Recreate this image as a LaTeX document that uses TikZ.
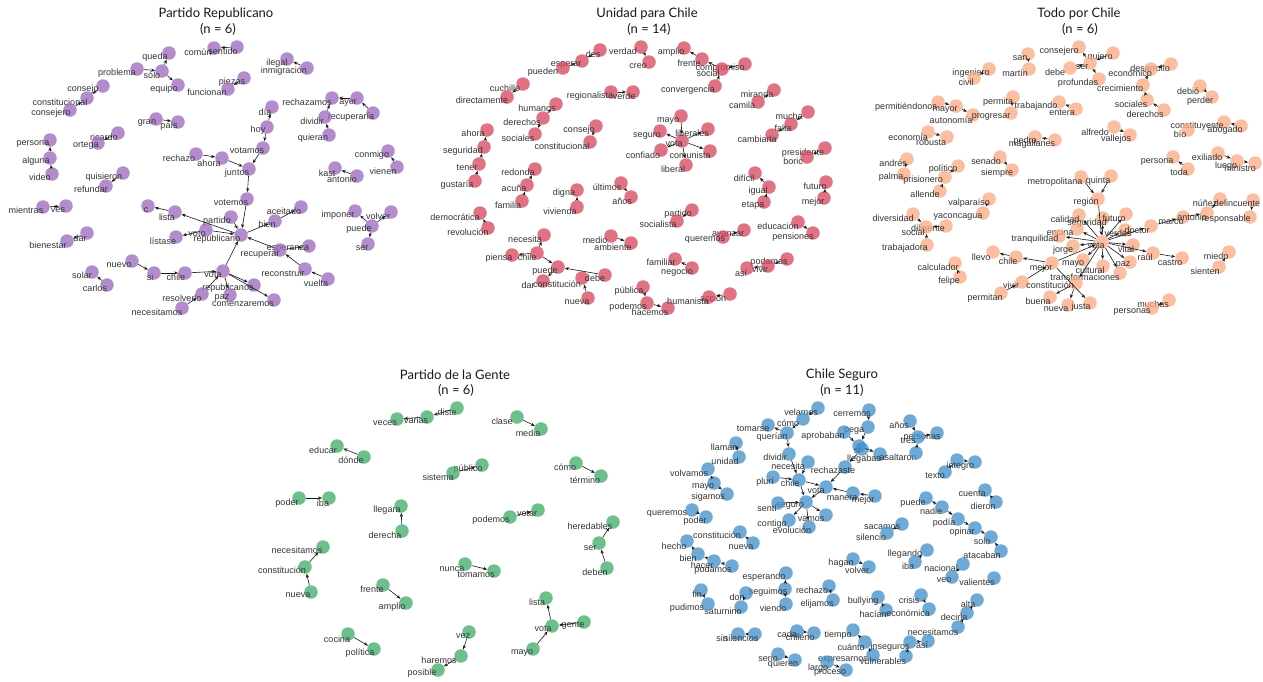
\documentclass[tikz,border=0pt]{standalone}
\usepackage{fontspec}
\setmainfont{Liberation Sans}
\newfontfamily\ttlfont{Lato}
\usetikzlibrary{arrows.meta}
\definecolor{cpurp}{HTML}{9966BB}
\definecolor{cred}{HTML}{D6435A}
\definecolor{corng}{HTML}{FCA982}
\definecolor{cgrn}{HTML}{3DAA65}
\definecolor{cblu}{HTML}{3E8EC8}
\definecolor{labc}{HTML}{333333}
\colorlet{cur}{cpurp}
\tikzset{
  v/.style={circle, minimum size=13.5pt, inner sep=0pt, draw=none, fill=cur, fill opacity=0.75},
  lab/.style={inner sep=0pt, font=\fontsize{9}{9}\selectfont, text=labc},
  ttl/.style={inner sep=0pt, font=\ttlfont\fontsize{13}{13}\selectfont, text=black!90},
  e/.style={draw=black!90, line width=0.6pt, -{Stealth[length=4pt,width=3.2pt]}}
}
\newcommand\vtx[6]{\node[v] (#1) at (#2,#3) {}; \node[lab] (#1l) at (#4,#5) {#6};}
\newcommand\eg[2]{\draw[e] (#1) -- (#2);}
\begin{document}
\begin{tikzpicture}[x=1pt,y=-1pt]
\useasboundingbox (0,0) rectangle (1263,681);
\fill[white] (0,0) rectangle (1263,681);
% ===== Panel 1 =====
\node[ttl] (t1) at (216,14) {Partido Republicano};
\node[ttl] (t1n) at (218,29) {(n = 6)};
\colorlet{cur}{cpurp}
\vtx{a1}{214}{48}{198}{52}{común}
\vtx{a2}{237}{47}{223}{51}{sentido}
\vtx{a3}{287}{59}{277}{63}{ilegal}
\vtx{a4}{307}{68}{284}{71}{inmigración}
\vtx{a5}{169}{53}{155}{57}{queda}
\vtx{a6}{137}{69}{117}{73}{problema}
\vtx{a7}{162}{71}{152}{75}{sólo}
\vtx{a8}{178}{85}{164}{89}{equipo}
\vtx{a9}{103}{86}{83}{89}{consejo}
\vtx{a10}{87}{98}{60}{102}{constitucional}
\vtx{a11}{70}{110}{51}{113}{consejero}
\vtx{a12}{244}{78}{232}{82}{piezas}
\vtx{a13}{228}{89}{207}{92}{funcionan}
\vtx{a14}{156}{119}{147}{123}{gran}
\vtx{a15}{178}{122}{169}{126}{país}
\vtx{a16}{118}{133}{104}{137}{ricardo}
\vtx{a17}{98}{143}{86}{146}{ortega}
\vtx{a18}{50}{140}{33}{144}{persona}
\vtx{a19}{50}{158}{36}{161}{alguna}
\vtx{a20}{52}{174}{40}{177}{video}
\vtx{a21}{332}{98}{307}{102}{rechazamos}
\vtx{a22}{357}{98}{348}{103}{ayer}
\vtx{a23}{373}{113}{351}{117}{recuperaría}
\vtx{a24}{325}{117}{312}{121}{dividir}
\vtx{a25}{329}{135}{313}{138}{quieran}
\vtx{a26}{272}{107}{265}{112}{día}
\vtx{a27}{267}{127}{258}{130}{hoy}
\vtx{a28}{263}{148}{247}{151}{votamos}
\vtx{a29}{249}{169}{237}{173}{juntos}
\vtx{a30}{247}{199}{231}{203}{votemos}
\vtx{a31}{196}{154}{179}{158}{rechazo}
\vtx{a32}{222}{158}{209}{163}{ahora}
\vtx{a33}{388}{151}{372}{155}{conmigo}
\vtx{a34}{397}{167}{383}{171}{vienen}
\vtx{a35}{335}{168}{327}{173}{kast}
\vtx{a36}{357}{176}{342}{179}{antonio}
\vtx{a37}{123}{173}{104}{177}{quisieron}
\vtx{a38}{106}{186}{91}{189}{refundar}
\vtx{a39}{43}{207}{26}{210}{mientras}
\vtx{a40}{66}{206}{58}{210}{ves}
\vtx{a41}{87}{233}{80}{238}{dar}
\vtx{a42}{67}{241}{48}{245}{bienestar}
\vtx{a43}{92}{272}{82}{275}{solar}
\vtx{a44}{107}{285}{95}{288}{carlos}
\vtx{a45}{355}{211}{338}{215}{imponer}
\vtx{a46}{391}{212}{378}{216}{volver}
\vtx{a47}{372}{226}{359}{229}{puede}
\vtx{a48}{368}{244}{362}{248}{ser}
\vtx{a50}{241}{235}{217}{239}{republicano}
\vtx{a51}{148}{206}{146}{210}{c}
\vtx{a52}{175}{212}{167}{217}{lista}
\vtx{a53}{176}{237}{163}{241}{lístase}
\vtx{a54}{206}{230}{197}{234}{voto}
\vtx{a55}{231}{217}{217}{221}{partido}
\vtx{a56}{275}{221}{267}{224}{bien}
\vtx{a57}{301}{207}{284}{211}{aceitado}
\vtx{a58}{309}{246}{288}{249}{esperanza}
\vtx{a59}{280}{250}{260}{255}{recuperar}
\vtx{a60}{305}{269}{283}{273}{reconstruir}
\vtx{a61}{328}{279}{316}{283}{vuelta}
\vtx{a62}{223}{271}{213}{275}{vota}
\vtx{a63}{185}{273}{176}{277}{chile}
\vtx{a64}{154}{273}{150}{277}{si}
\vtx{a65}{132}{261}{119}{265}{nuevo}
\vtx{a66}{254}{285}{228}{288}{republicanos}
\vtx{a67}{230}{295}{222}{298}{paz}
\vtx{a68}{274}{300}{243}{304}{comenzaremos}
\vtx{a69}{202}{294}{182}{298}{resolverlo}
\vtx{a70}{182}{308}{157}{312}{necesitamos}
\eg{a2}{a1}\eg{a4}{a3}\eg{a6}{a7}\eg{a7}{a5}\eg{a7}{a8}
\eg{a9}{a10}\eg{a11}{a10}\eg{a12}{a13}\eg{a14}{a15}\eg{a16}{a17}
\eg{a19}{a18}\eg{a20}{a19}\eg{a22}{a21}\eg{a23}{a22}\eg{a24}{a21}\eg{a25}{a24}
\eg{a27}{a26}\eg{a27}{a28}\eg{a28}{a29}\eg{a29}{a30}\eg{a31}{a32}\eg{a32}{a29}
\eg{a30}{a50}
\eg{a34}{a33}\eg{a36}{a35}\eg{a37}{a38}\eg{a39}{a40}\eg{a41}{a42}\eg{a44}{a43}
\eg{a47}{a45}\eg{a47}{a46}\eg{a47}{a48}
\eg{a52}{a51}\eg{a50}{a52}\eg{a54}{a53}\eg{a54}{a50}\eg{a55}{a50}\eg{a50}{a56}\eg{a56}{a57}
\eg{a59}{a50}\eg{a59}{a58}\eg{a60}{a59}\eg{a61}{a60}
\eg{a62}{a50}\eg{a64}{a63}\eg{a63}{a62}\eg{a65}{a64}\eg{a62}{a66}\eg{a62}{a68}\eg{a62}{a67}
\eg{a70}{a69}\eg{a69}{a62}
% ===== Panel 2 =====
\node[ttl] (t2) at (647,14) {Unidad para Chile};
\node[ttl] (t2n) at (649,29) {(n = 14)};
\colorlet{cur}{cred}
\vtx{b1}{600}{50}{593}{54}{des}
\vtx{b2}{582}{61}{566}{65}{esperar}
\vtx{b3}{563}{68}{543}{72}{pueden}
\vtx{b4}{641}{47}{623}{51}{verdad}
\vtx{b5}{649}{62}{638}{66}{creo}
\vtx{b6}{684}{48}{671}{52}{amplio}
\vtx{b7}{702}{59}{689}{63}{frente}
\vtx{b8}{745}{64}{720}{68}{compromiso}
\vtx{b9}{722}{69}{708}{73}{social}
\vtx{b10}{715}{86}{688}{90}{convergencia}
\vtx{b11}{523}{84}{505}{88}{cuchillo}
\vtx{b12}{507}{97}{482}{100}{directamente}
\vtx{b13}{611}{92}{590}{96}{regionalista}
\vtx{b14}{633}{92}{624}{96}{verde}
\vtx{b15}{774}{90}{757}{94}{miranda}
\vtx{b16}{758}{102}{742}{105}{camila}
\vtx{b17}{556}{104}{537}{108}{humanos}
\vtx{b18}{543}{118}{522}{122}{derechos}
\vtx{b19}{535}{134}{518}{138}{sociales}
\vtx{b20}{596}{126}{579}{130}{consejo}
\vtx{b21}{590}{142}{562}{146}{constitucional}
\vtx{b22}{487}{130}{473}{133}{ahora}
\vtx{b23}{484}{147}{463}{151}{seguridad}
\vtx{b24}{479}{164}{467}{168}{tener}
\vtx{b25}{475}{181}{457}{185}{gustaría}
\vtx{b26}{808}{112}{789}{116}{mucha}
\vtx{b27}{791}{124}{783}{128}{falta}
\vtx{b28}{772}{135}{757}{139}{cambiarla}
\vtx{b29}{825}{148}{803}{153}{presidente}
\vtx{b30}{807}{157}{793}{161}{boric}
\vtx{b31}{682}{141}{674}{144}{vota}
\vtx{b32}{681}{116}{668}{121}{mayo}
\vtx{b33}{660}{131}{647}{136}{seguro}
\vtx{b34}{708}{129}{692}{133}{liberales}
\vtx{b35}{661}{150}{643}{155}{confiado}
\vtx{b36}{710}{151}{690}{155}{comunista}
\vtx{b37}{686}{165}{673}{169}{liberal}
\vtx{b38}{535}{169}{518}{172}{redonda}
\vtx{b39}{527}{185}{514}{188}{acuña}
\vtx{b40}{522}{201}{508}{205}{familia}
\vtx{b41}{577}{190}{564}{193}{digna}
\vtx{b42}{577}{207}{560}{211}{vivienda}
\vtx{b43}{621}{183}{607}{187}{últimos}
\vtx{b44}{631}{197}{622}{201}{años}
\vtx{b45}{826}{182}{815}{186}{futuro}
\vtx{b46}{824}{198}{813}{202}{mejor}
\vtx{b47}{755}{173}{744}{178}{difícil}
\vtx{b48}{769}{187}{758}{191}{igual}
\vtx{b49}{764}{202}{753}{206}{etapa}
\vtx{b50}{692}{210}{678}{214}{partido}
\vtx{b51}{677}{221}{658}{224}{socialista}
\vtx{b52}{480}{213}{455}{217}{democrática}
\vtx{b53}{488}{228}{468}{232}{revolución}
\vtx{b54}{798}{222}{778}{226}{educación}
\vtx{b55}{813}{233}{793}{237}{pensiones}
\vtx{b56}{744}{230}{728}{234}{avanzar}
\vtx{b57}{723}{237}{705}{240}{queremos}
\vtx{b58}{611}{236}{595}{240}{medio}
\vtx{b59}{631}{243}{613}{247}{ambiente}
\vtx{b60}{544}{235}{525}{239}{necesita}
\vtx{b61}{537}{253}{527}{257}{chile}
\vtx{b62}{512}{255}{499}{258}{piensa}
\vtx{b63}{558}{267}{545}{271}{puede}
\vtx{b64}{543}{281}{528}{285}{dar}
\vtx{b65}{582}{278}{557}{284}{constitución}
\vtx{b66}{605}{275}{595}{278}{debe}
\vtx{b67}{588}{298}{577}{302}{nueva}
\vtx{b68}{675}{259}{661}{262}{familiar}
\vtx{b69}{692}{268}{677}{272}{negocio}
\vtx{b70}{787}{259}{769}{262}{podamos}
\vtx{b71}{768}{266}{760}{269}{vivir}
\vtx{b72}{747}{268}{741}{273}{así}
\vtx{b73}{643}{287}{629}{291}{pública}
\vtx{b74}{647}{303}{628}{307}{podemos}
\vtx{b75}{668}{308}{650}{312}{hacemos}
\vtx{b76}{730}{294}{713}{298}{acción}
\vtx{b77}{709}{297}{688}{301}{humanista}
\eg{b3}{b2}\eg{b1}{b2}\eg{b4}{b5}\eg{b7}{b6}\eg{b9}{b7}\eg{b10}{b9}\eg{b8}{b9}
\eg{b11}{b12}\eg{b13}{b14}\eg{b16}{b15}\eg{b18}{b17}\eg{b18}{b19}\eg{b20}{b21}
\eg{b23}{b22}\eg{b24}{b23}\eg{b25}{b24}\eg{b26}{b27}\eg{b27}{b28}\eg{b29}{b30}
\eg{b32}{b31}\eg{b31}{b33}\eg{b31}{b34}\eg{b31}{b35}\eg{b31}{b36}\eg{b31}{b37}
\eg{b39}{b38}\eg{b40}{b39}\eg{b42}{b41}\eg{b43}{b44}\eg{b46}{b45}\eg{b48}{b47}\eg{b49}{b48}
\eg{b50}{b51}\eg{b53}{b52}\eg{b54}{b55}\eg{b57}{b56}\eg{b58}{b59}
\eg{b61}{b60}\eg{b61}{b62}\eg{b61}{b63}\eg{b66}{b63}\eg{b63}{b64}\eg{b67}{b65}
\eg{b69}{b68}\eg{b70}{b71}\eg{b71}{b72}\eg{b73}{b74}\eg{b74}{b75}\eg{b76}{b77}
% ===== Panel 3 =====
\node[ttl] (t3) at (1079,14) {Todo por Chile};
\node[ttl] (t3n) at (1080,29) {(n = 6)};
\colorlet{cur}{corng}
\vtx{c1}{1079}{47}{1059}{51}{consejero}
\vtx{c2}{1113}{53}{1100}{57}{quiero}
\vtx{c3}{1090}{63}{1082}{67}{ser}
\vtx{c4}{1070}{68}{1055}{72}{debe}
\vtx{c5}{1099}{79}{1078}{83}{profundas}
\vtx{c6}{1028}{54}{1020}{58}{san}
\vtx{c7}{1029}{69}{1015}{73}{martín}
\vtx{c8}{989}{69}{971}{73}{ingeniero}
\vtx{c9}{974}{78}{966}{82}{civil}
\vtx{c10}{1171}{64}{1150}{68}{desarrollo}
\vtx{c11}{1151}{69}{1130}{73}{económico}
\vtx{c12}{1143}{85}{1120}{88}{crecimiento}
\vtx{c13}{1147}{100}{1131}{104}{sociales}
\vtx{c14}{1164}{110}{1145}{114}{derechos}
\vtx{c15}{1200}{86}{1188}{91}{debió}
\vtx{c16}{1212}{97}{1200}{101}{perder}
\vtx{c17}{938}{102}{906}{107}{permitiéndonos}
\vtx{c18}{956}{106}{945}{110}{mayor}
\vtx{c19}{973}{115}{951}{120}{autonomía}
\vtx{c20}{1013}{97}{998}{102}{permita}
\vtx{c21}{1011}{113}{991}{117}{progresar}
\vtx{c22}{1059}{102}{1036}{106}{trabajando}
\vtx{c23}{1076}{109}{1062}{113}{entera}
\vtx{c24}{1224}{122}{1197}{126}{constituyente}
\vtx{c25}{1241}{126}{1225}{130}{abogado}
\vtx{c26}{1188}{130}{1180}{134}{bío}
\vtx{c27}{928}{132}{908}{137}{economía}
\vtx{c28}{947}{137}{931}{142}{robusta}
\vtx{c29}{1114}{127}{1095}{132}{alfredo}
\vtx{c30}{1130}{135}{1116}{139}{vallejos}
\vtx{c31}{1035}{137}{1025}{141}{pedro}
\vtx{c32}{1055}{140}{1032}{144}{magallanes}
\vtx{c33}{1000}{157}{986}{161}{senado}
\vtx{c34}{1012}{170}{997}{173}{siempre}
\vtx{c35}{1173}{157}{1157}{162}{persona}
\vtx{c36}{1188}{169}{1179}{172}{toda}
\vtx{c37}{1218}{153}{1207}{157}{exiliado}
\vtx{c38}{1237}{161}{1226}{166}{luego}
\vtx{c39}{1255}{163}{1240}{168}{ministro}
\vtx{c40}{907}{159}{893}{163}{andrés}
\vtx{c41}{904}{174}{891}{177}{palma}
\vtx{c42}{958}{166}{943}{169}{político}
\vtx{c43}{945}{177}{923}{180}{prisionero}
\vtx{c44}{940}{191}{925}{194}{allende}
\vtx{c45}{989}{199}{969}{203}{valparaíso}
\vtx{c46}{983}{213}{958}{217}{yaconcagua}
\vtx{c47}{913}{214}{893}{218}{diversidad}
\vtx{c48}{946}{226}{928}{229}{diligente}
\vtx{c49}{926}{227}{913}{232}{social}
\vtx{c50}{927}{245}{905}{248}{trabajadora}
\vtx{c51}{955}{263}{938}{267}{calculador}
\vtx{c52}{960}{277}{949}{281}{felipe}
\vtx{c53}{1169}{300}{1153}{304}{muchas}
\vtx{c54}{1152}{308}{1132}{312}{personas}
\vtx{c55}{1229}{252}{1216}{256}{miedo}
\vtx{c56}{1219}{267}{1205}{271}{sienten}
\vtx{c60}{1102}{242}{1096}{246}{vota}
\vtx{c61}{1081}{177}{1055}{182}{metropolitana}
\vtx{c62}{1111}{176}{1098}{181}{quinta}
\vtx{c63}{1098}{199}{1086}{202}{región}
\vtx{c64}{1079}{215}{1065}{219}{calidad}
\vtx{c65}{1103}{218}{1087}{223}{seguridad}
\vtx{c66}{1126}{214}{1114}{218}{futuro}
\vtx{c67}{1125}{230}{1118}{233}{verdes}
\vtx{c68}{1151}{226}{1137}{230}{doctor}
\vtx{c69}{1183}{217}{1171}{222}{marco}
\vtx{c70}{1207}{213}{1192}{217}{antonio}
\vtx{c71}{1220}{199}{1205}{203}{núñez}
\vtx{c72}{1253}{200}{1237}{203}{delincuente}
\vtx{c73}{1250}{217}{1226}{219}{responsable}
\vtx{c74}{1077}{229}{1060}{232}{encina}
\vtx{c75}{1059}{236}{1035}{239}{tranquilidad}
\vtx{c76}{1073}{246}{1063}{250}{jorge}
\vtx{c77}{1133}{245}{1126}{249}{vital}
\vtx{c78}{1153}{253}{1145}{257}{raúl}
\vtx{c79}{1182}{258}{1170}{263}{castro}
\vtx{c80}{1130}{262}{1123}{265}{paz}
\vtx{c81}{1083}{260}{1073}{264}{mayo}
\vtx{c82}{1103}{266}{1090}{270}{cultural}
\vtx{c83}{1120}{273}{1085}{277}{transformaciones}
\vtx{c84}{1052}{263}{1041}{268}{mejor}
\vtx{c85}{1016}{257}{1008}{261}{chile}
\vtx{c86}{993}{252}{981}{257}{llevo}
\vtx{c87}{1022}{282}{1011}{285}{vivir}
\vtx{c88}{1001}{293}{985}{298}{permitan}
\vtx{c89}{1076}{283}{1050}{285}{constitución}
\vtx{c90}{1050}{297}{1038}{301}{buena}
\vtx{c91}{1068}{305}{1056}{309}{nueva}
\vtx{c92}{1090}{303}{1081}{307}{justa}
\eg{c3}{c1}\eg{c2}{c3}\eg{c4}{c3}\eg{c3}{c5}\eg{c6}{c7}\eg{c8}{c9}
\eg{c10}{c11}\eg{c12}{c11}\eg{c14}{c13}\eg{c13}{c12}\eg{c15}{c16}
\eg{c17}{c18}\eg{c18}{c19}\eg{c20}{c21}\eg{c23}{c22}\eg{c25}{c24}\eg{c27}{c28}
\eg{c29}{c30}\eg{c32}{c31}\eg{c33}{c34}\eg{c36}{c35}\eg{c37}{c38}\eg{c38}{c39}
\eg{c40}{c41}\eg{c42}{c43}\eg{c44}{c43}\eg{c45}{c46}\eg{c47}{c49}\eg{c48}{c49}\eg{c50}{c49}
\eg{c52}{c51}\eg{c53}{c54}\eg{c56}{c55}
\eg{c61}{c63}\eg{c62}{c63}\eg{c63}{c60}
\eg{c60}{c64}\eg{c60}{c65}\eg{c60}{c66}\eg{c60}{c67}\eg{c60}{c68}\eg{c68}{c69}\eg{c69}{c70}\eg{c70}{c71}\eg{c72}{c73}
\eg{c60}{c74}\eg{c60}{c75}\eg{c60}{c76}\eg{c60}{c77}\eg{c60}{c78}\eg{c78}{c79}\eg{c60}{c80}
\eg{c60}{c81}\eg{c60}{c82}\eg{c60}{c83}\eg{c84}{c60}\eg{c87}{c84}\eg{c88}{c87}
\eg{c84}{c85}\eg{c85}{c86}\eg{c60}{c89}\eg{c84}{c92}\eg{c89}{c90}\eg{c89}{c91}
% ===== Panel 4 =====
\node[ttl] (t4) at (455,375) {Partido de la Gente};
\node[ttl] (t4n) at (456,390) {(n = 6)};
\colorlet{cur}{cgrn}
\vtx{d1}{457}{408}{447}{412}{diste}
\vtx{d2}{427}{417}{416}{420}{varias}
\vtx{d3}{397}{419}{385}{423}{veces}
\vtx{d4}{517}{417}{502}{421}{clase}
\vtx{d5}{541}{429}{528}{433}{media}
\vtx{d6}{337}{446}{323}{450}{educar}
\vtx{d7}{364}{457}{351}{460}{dónde}
\vtx{d8}{482}{465}{468}{469}{público}
\vtx{d9}{453}{473}{438}{477}{sistema}
\vtx{d10}{576}{463}{565}{467}{cómo}
\vtx{d11}{601}{476}{585}{480}{término}
\vtx{d12}{299}{498}{287}{503}{poder}
\vtx{d13}{329}{498}{323}{503}{iba}
\vtx{d14}{401}{506}{387}{510}{llegara}
\vtx{d15}{402}{531}{385}{535}{derecha}
\vtx{d16}{538}{510}{527}{514}{votar}
\vtx{d17}{510}{517}{491}{520}{podemos}
\vtx{d18}{613}{522}{590}{526}{heredables}
\vtx{d19}{599}{543}{590}{548}{ser}
\vtx{d20}{607}{568}{595}{572}{deben}
\vtx{d21}{323}{547}{297}{550}{necesitamos}
\vtx{d22}{305}{567}{282}{570}{constitución}
\vtx{d23}{311}{592}{298}{595}{nueva}
\vtx{d24}{465}{564}{452}{569}{nunca}
\vtx{d25}{494}{571}{476}{575}{tomamos}
\vtx{d26}{383}{585}{372}{589}{frente}
\vtx{d27}{406}{603}{392}{607}{amplio}
\vtx{d28}{546}{598}{537}{602}{lista}
\vtx{d29}{552}{626}{543}{629}{vota}
\vtx{d30}{584}{622}{573}{626}{gente}
\vtx{d31}{533}{649}{522}{653}{mayo}
\vtx{d32}{348}{634}{337}{639}{cocina}
\vtx{d33}{374}{649}{360}{653}{política}
\vtx{d34}{469}{632}{463}{636}{vez}
\vtx{d35}{461}{656}{439}{660}{haremos}
\vtx{d36}{438}{670}{422}{673}{posible}
\eg{d1}{d2}\eg{d2}{d3}\eg{d4}{d5}\eg{d7}{d6}\eg{d9}{d8}\eg{d10}{d11}\eg{d12}{d13}
\eg{d15}{d14}\eg{d17}{d16}\eg{d19}{d18}\eg{d20}{d19}\eg{d22}{d21}\eg{d23}{d22}
\eg{d24}{d25}\eg{d26}{d27}\eg{d29}{d28}\eg{d30}{d29}\eg{d31}{d29}\eg{d32}{d33}
\eg{d34}{d35}\eg{d35}{d36}
% ===== Panel 5 =====
\node[ttl] (t5) at (842,375) {Chile Seguro};
\node[ttl] (t5n) at (842,390) {(n = 11)};
\colorlet{cur}{cblu}
\vtx{e1}{818}{408}{801}{412}{velamos}
\vtx{e2}{803}{419}{788}{423}{cómo}
\vtx{e3}{768}{425}{753}{429}{tomarse}
\vtx{e4}{787}{433}{772}{437}{querían}
\vtx{e5}{789}{454}{775}{457}{dividir}
\vtx{e6}{869}{410}{852}{414}{cerremos}
\vtx{e7}{868}{427}{854}{431}{pega}
\vtx{e8}{844}{432}{823}{436}{aprobaban}
\vtx{e9}{859}{446}{857}{450}{si}
\vtx{e10}{880}{454}{898}{457}{asaltaron}
\vtx{e11}{845}{467}{833}{470}{rechazaste}
\vtx{e12}{862}{449}{864}{459}{llegabas}
\vtx{e13}{910}{421}{899}{425}{años}
\vtx{e14}{937}{433}{922}{438}{personas}
\vtx{e15}{918}{437}{908}{441}{tres}
\node[v] (e16) at (916,453) {};
\vtx{e17}{736}{443}{724}{447}{llaman}
\vtx{e18}{739}{457}{725}{461}{unidad}
\vtx{e19}{708}{469}{689}{473}{volvamos}
\vtx{e20}{714}{483}{703}{487}{mayo}
\vtx{e21}{727}{494}{708}{497}{sigamos}
\vtx{e22}{692}{510}{667}{514}{queremos}
\vtx{e23}{706}{517}{695}{521}{poder}
\vtx{e24}{808}{462}{788}{466}{necesita}
\vtx{e25}{799}{480}{790}{483}{chile}
\vtx{e26}{773}{477}{765}{482}{plurí}
\vtx{e27}{826}{487}{816}{491}{vota}
\vtx{e28}{853}{493}{842}{498}{manera}
\vtx{e29}{875}{496}{863}{500}{mejor}
\vtx{e30}{806}{502}{790}{506}{seguro}
\vtx{e31}{778}{503}{767}{508}{sentí}
\vtx{e32}{826}{515}{811}{519}{vamos}
\vtx{e33}{789}{520}{772}{524}{contigo}
\vtx{e34}{809}{527}{792}{530}{evolución}
\vtx{e35}{985}{490}{972}{494}{cuenta}
\vtx{e36}{996}{502}{983}{506}{dieron}
\vtx{e37}{945}{472}{935}{476}{texto}
\node[v] (e38) at (957,460) {};
\vtx{e39}{975}{462}{960}{466}{íntegro}
\vtx{e40}{926}{498}{913}{503}{puede}
\vtx{e41}{942}{507}{931}{511}{nadie}
\vtx{e42}{958}{519}{944}{523}{podía}
\vtx{e43}{975}{528}{962}{532}{opinar}
\vtx{e44}{991}{537}{982}{541}{solo}
\vtx{e45}{1001}{551}{982}{555}{atacaban}
\vtx{e46}{902}{524}{882}{527}{sacamos}
\vtx{e47}{887}{533}{871}{537}{silencio}
\vtx{e48}{740}{532}{717}{535}{constitución}
\vtx{e49}{753}{543}{741}{547}{nueva}
\vtx{e50}{687}{541}{674}{546}{hecho}
\vtx{e51}{698}{554}{688}{558}{bien}
\vtx{e52}{714}{561}{702}{565}{hacer}
\vtx{e53}{732}{566}{713}{570}{podamos}
\vtx{e54}{927}{550}{905}{554}{llegando}
\vtx{e55}{915}{562}{908}{566}{iba}
\vtx{e56}{853}{559}{841}{563}{hagan}
\vtx{e57}{869}{567}{857}{570}{volver}
\vtx{e58}{963}{564}{941}{568}{nacional}
\vtx{e59}{952}{577}{944}{580}{veo}
\vtx{e60}{994}{578}{977}{582}{valientes}
\vtx{e61}{786}{573}{764}{577}{esperando}
\vtx{e62}{785}{589}{768}{592}{seguimos}
\vtx{e63}{786}{604}{773}{608}{viendo}
\vtx{e64}{746}{593}{737}{597}{don}
\vtx{e65}{741}{607}{723}{611}{saturnino}
\vtx{e66}{701}{590}{697}{594}{fin}
\vtx{e67}{708}{604}{687}{608}{pudimos}
\vtx{e68}{829}{586}{812}{590}{rechazo}
\vtx{e69}{833}{600}{817}{604}{elijamos}
\vtx{e70}{878}{597}{863}{601}{bullying}
\vtx{e71}{886}{610}{873}{614}{hacían}
\vtx{e72}{921}{595}{909}{600}{crisis}
\vtx{e73}{929}{609}{908}{613}{económica}
\vtx{e74}{977}{600}{968}{604}{alta}
\vtx{e75}{967}{613}{954}{617}{decirla}
\vtx{e76}{958}{627}{933}{632}{necesitamos}
\vtx{e77}{738}{634}{722}{638}{sin}
\vtx{e78}{755}{634}{741}{638}{silencios}
\vtx{e79}{797}{631}{787}{634}{cada}
\vtx{e80}{814}{633}{800}{637}{chileno}
\vtx{e81}{853}{630}{838}{635}{tiempo}
\vtx{e82}{865}{642}{851}{647}{cuánto}
\vtx{e83}{873}{655}{843}{660}{expresarnos}
\vtx{e84}{906}{656}{883}{661}{vulnerables}
\vtx{e85}{910}{642}{890}{647}{inseguros}
\vtx{e86}{928}{641}{922}{645}{así}
\vtx{e87}{827}{662}{818}{668}{largo}
\vtx{e88}{846}{670}{830}{673}{proceso}
\vtx{e89}{778}{654}{768}{658}{serio}
\vtx{e90}{795}{660}{783}{664}{quieren}
\eg{e1}{e2}\eg{e2}{e4}\eg{e4}{e3}\eg{e4}{e5}\eg{e5}{e25}
\eg{e6}{e7}\eg{e7}{e9}\eg{e8}{e9}\eg{e9}{e10}\eg{e12}{e11}\eg{e11}{e27}
\eg{e13}{e15}\eg{e15}{e14}\eg{e16}{e15}\eg{e17}{e18}\eg{e20}{e19}\eg{e20}{e21}\eg{e22}{e23}
\eg{e24}{e25}\eg{e26}{e25}\eg{e25}{e27}\eg{e25}{e30}\eg{e29}{e28}\eg{e28}{e27}\eg{e27}{e30}
\eg{e31}{e30}\eg{e30}{e32}\eg{e30}{e33}\eg{e30}{e34}
\eg{e36}{e35}\eg{e37}{e38}\eg{e38}{e39}
\eg{e41}{e40}\eg{e41}{e42}\eg{e42}{e43}\eg{e43}{e44}\eg{e45}{e44}\eg{e46}{e47}
\eg{e49}{e48}\eg{e51}{e50}\eg{e52}{e51}\eg{e53}{e52}\eg{e55}{e54}\eg{e56}{e57}\eg{e58}{e59}
\eg{e62}{e61}\eg{e62}{e63}\eg{e64}{e65}\eg{e66}{e67}\eg{e68}{e69}\eg{e71}{e70}\eg{e72}{e73}
\eg{e75}{e74}\eg{e76}{e75}\eg{e78}{e77}\eg{e79}{e80}\eg{e82}{e81}\eg{e83}{e82}\eg{e84}{e85}\eg{e85}{e86}
\eg{e87}{e88}\eg{e89}{e90}
\end{tikzpicture}
\end{document}
